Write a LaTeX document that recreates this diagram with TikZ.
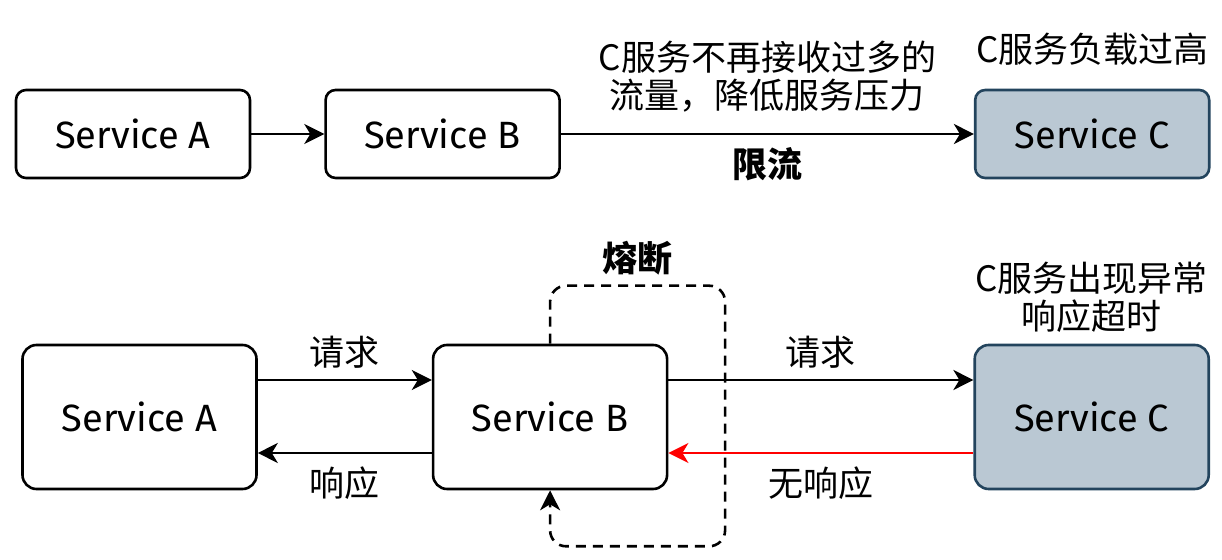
\documentclass[tikz,border=0pt]{standalone}
\usepackage{fontspec}
\setmainfont{Noto Sans CJK SC}
\newfontfamily\svcfont{Fira Sans}
\usetikzlibrary{positioning,arrows.meta,calc}
\definecolor{cargafill}{HTML}{BAC8D3}
\definecolor{cargadraw}{HTML}{23445D}

\begin{document}
\begin{tikzpicture}[
  x=0.5pt, y=0.5pt,
  service/.style={rectangle, rounded corners=5pt, draw=black, line width=1.3pt, fill=white,
                  minimum width=117pt, minimum height=44pt, inner sep=0pt,
                  font=\svcfont\fontsize{19}{22}\selectfont},
  bigservice/.style={service, rounded corners=7pt, minimum height=72pt},
  overload/.style={fill=cargafill, draw=cargadraw},
  flow/.style={-{Stealth[length=10pt, width=10pt, inset=3pt]}, line width=1.3pt},
  failflow/.style={flow, draw=red},
  note/.style={font=\fontsize{17.5}{19}\selectfont, align=center},
  tag/.style={note, font=\fontsize{17.5}{19}\selectfont\bfseries},
  fuse/.style={flow, dash pattern=on 5pt off 3.5pt, rounded corners=8pt}
]
\useasboundingbox (0,0) rectangle (1222,-560);

% ---------------- Limite de fluxo ----------------
\node[service] (a1) at (133,-134) {Service A};
\node[service, right=36.5pt of a1] (b1) {Service B};
\node[service, overload, right=206.5pt of b1] (c1) {Service C};
\node[note, above=8pt of c1] (c1note) {C服务负载过高};

\draw[flow] (a1) -- (b1);
\draw[flow] (b1) -- node[note, above=7pt] (limnote) {C服务不再接收过多的\\流量，降低服务压力}
                    node[tag, below=3pt] (limtag) {限流} (c1);

% ---------------- Disjuntor ----------------
\node[bigservice] (a2) at (139.5,-417) {Service A};
\node[bigservice, right=87pt of a2] (b2) {Service B};
\node[bigservice, overload, right=152.5pt of b2] (c2) {Service C};
\node[note, above=2pt of c2] (c2note) {C服务出现异常\\响应超时};

\draw[flow] ([yshift=18.5pt]a2.east) -- node[note, above=2pt] (req1) {请求} ([yshift=18.5pt]b2.west);
\draw[flow] ([yshift=-18pt]b2.west) -- node[note, below=3pt] (resp1) {响应} ([yshift=-18pt]a2.east);
\draw[flow] ([yshift=18.5pt]b2.east) -- node[note, above=2pt] (req2) {请求} ([yshift=18.5pt]c2.west);
\draw[failflow] ([yshift=-18pt]c2.west) -- node[note, below=3pt] (resp2) {无响应} ([yshift=-18pt]b2.east);

% laco tracejado
\coordinate (ft) at ([yshift=29pt]b2.north);
\coordinate (fr) at ([xshift=87.5pt]b2.center);
\coordinate (fb) at ([yshift=-28pt]b2.south);
\draw[fuse] (b2.north) -- (ft) -| (fb -| fr) -- (fb) -- (b2.south);
\node[tag, above=1.5pt] (fusetag) at ($(ft)!0.5!(ft -| fr)$) {熔断};

\end{tikzpicture}
\end{document}
